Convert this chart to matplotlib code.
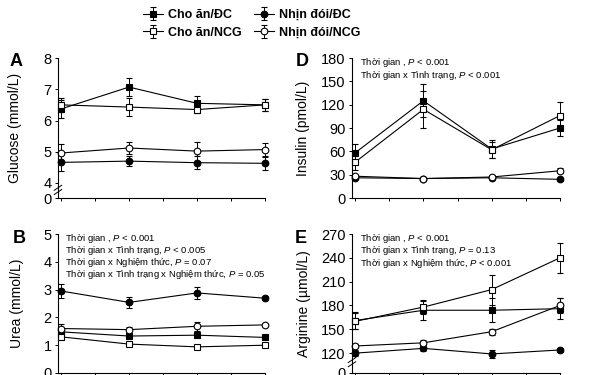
import numpy as np
import matplotlib
matplotlib.use('Agg')
import matplotlib.pyplot as plt

plt.rcParams['font.family'] = ['Liberation Sans', 'DejaVu Sans']
plt.rcParams['mathtext.fontset'] = 'custom'
plt.rcParams['mathtext.it'] = 'Liberation Sans:italic'
plt.rcParams['mathtext.rm'] = 'Liberation Sans'

# time points
time = [0, 1, 2, 3]
groups = ['Cho ăn/ĐC', 'Cho ăn/NCG', 'Nhịn đói/ĐC', 'Nhịn đói/NCG']

# Glucose (mmol/L)
glu_fed_dc = [6.37, 7.07, 6.55, 6.50]
glu_fed_dc_err = [0.28, 0.28, 0.24, 0.20]
glu_fed_ncg = [6.50, 6.43, 6.35, 6.50]
glu_fed_ncg_err = [0.22, 0.28, 0.12, 0.20]
glu_fast_dc = [4.66, 4.70, 4.65, 4.63]
glu_fast_dc_err = [0.26, 0.17, 0.20, 0.20]
glu_fast_ncg = [4.96, 5.12, 5.02, 5.07]
glu_fast_ncg_err = [0.30, 0.20, 0.30, 0.22]

# Urea (mmol/L)
urea_fed_dc = [1.48, 1.33, 1.36, 1.28]
urea_fed_dc_err = [0.05, 0.05, 0.05, 0.04]
urea_fed_ncg = [1.30, 1.04, 0.94, 1.00]
urea_fed_ncg_err = [0.05, 0.04, 0.04, 0.04]
urea_fast_dc = [2.95, 2.54, 2.88, 2.69]
urea_fast_dc_err = [0.24, 0.20, 0.23, 0.08]
urea_fast_ncg = [1.60, 1.56, 1.68, 1.73]
urea_fast_ncg_err = [0.17, 0.10, 0.17, 0.05]

# Insulin (pmol/L)
ins_fed_dc = [58, 125, 63, 90]
ins_fed_dc_err = [12, 21, 12, 10]
ins_fed_ncg = [46, 114, 62, 106]
ins_fed_ncg_err = [10, 24, 10, 18]
ins_fast_dc = [26, 25, 26, 24]
ins_fast_dc_err = [2, 2, 2, 2]
ins_fast_ncg = [28, 25, 27, 35]
ins_fast_ncg_err = [2, 2, 2, 3]

# Arginine (umol/L)
arg_fed_dc = [161, 174, 174, 176]
arg_fed_dc_err = [11, 12, 15, 13]
arg_fed_ncg = [160, 178, 200, 240]
arg_fed_ncg_err = [10, 9, 19, 19]
arg_fast_dc = [120, 126, 119, 124]
arg_fast_dc_err = [4, 3, 5, 2]
arg_fast_ncg = [129, 133, 147, 180]
arg_fast_ncg_err = [3, 3, 4, 10]

styles = [('s', 'k', 4.2), ('s', 'white', 4.2), ('o', 'k', 4.8), ('o', 'white', 4.8)]

W, H = 592, 375
fig = plt.figure(figsize=(W / 100, H / 100), dpi=100)


def rect(left, top, right, bottom):
    return [left / W, 1 - bottom / H, (right - left) / W, (bottom - top) / H]


def draw(ax, series):
    for (vals, errs), (m, fc, ms), lab in zip(series, styles, groups):
        ax.errorbar(time, vals, yerr=errs, fmt='-' + m, color='k', mfc=fc,
                    mec='k', ms=ms, mew=0.8, lw=0.8, elinewidth=0.7,
                    capsize=2, capthick=0.7, clip_on=False, label=lab)
    ax.set_xlim(-0.045, 3.0)
    ax.set_xticks(np.arange(0, 3.01, 0.5))
    ax.set_xticklabels([])
    ax.spines['top'].set_visible(False)
    ax.spines['right'].set_visible(False)
    ax.tick_params(direction='out', length=2.5, width=0.7, labelsize=10.5, pad=2)
    for s in ['left', 'bottom']:
        ax.spines[s].set_linewidth(0.8)


def brk(ax, y):
    for dy in (-0.012, 0.018):
        ax.plot([-0.018, 0.018], [y + dy - 0.018, y + dy + 0.018], color='k',
                lw=0.7, transform=ax.transAxes, clip_on=False)


NOTE = 6.8

# A - glucose
axA = fig.add_axes(rect(58, 58, 265, 198))
draw(axA, [(glu_fed_dc, glu_fed_dc_err), (glu_fed_ncg, glu_fed_ncg_err),
           (glu_fast_dc, glu_fast_dc_err), (glu_fast_ncg, glu_fast_ncg_err)])
axA.set_ylim(3.52, 8)
axA.set_yticks([3.52, 4, 5, 6, 7, 8])
axA.set_yticklabels(['0', '4', '5', '6', '7', '8'])
axA.set_ylabel('Glucose (mmol/L)', fontsize=10)
axA.yaxis.set_label_coords(-0.172, 0.5)
brk(axA, 0.055)

# D - insulin
axD = fig.add_axes(rect(352, 58, 560, 198))
draw(axD, [(ins_fed_dc, ins_fed_dc_err), (ins_fed_ncg, ins_fed_ncg_err),
           (ins_fast_dc, ins_fast_dc_err), (ins_fast_ncg, ins_fast_ncg_err)])
axD.set_ylim(0, 180)
axD.set_yticks(range(0, 181, 30))
axD.set_ylabel('Insulin (pmol/L)', fontsize=10)
axD.yaxis.set_label_coords(-0.202, 0.5)
axD.text(0.038, 0.965, r'Thời gian , $\it{P}$ < 0.001', fontsize=NOTE,
         transform=axD.transAxes, va='center')
axD.text(0.038, 0.872, r'Thời gian x Tình trạng, $\it{P}$ < 0.001', fontsize=NOTE,
         transform=axD.transAxes, va='center')

# B - urea
axB = fig.add_axes(rect(58, 234, 265, 373))
draw(axB, [(urea_fed_dc, urea_fed_dc_err), (urea_fed_ncg, urea_fed_ncg_err),
           (urea_fast_dc, urea_fast_dc_err), (urea_fast_ncg, urea_fast_ncg_err)])
axB.set_ylim(0, 5)
axB.set_yticks(range(0, 6))
axB.set_ylabel('Urea (mmol/L)', fontsize=10)
axB.yaxis.set_label_coords(-0.165, 0.5)
b_notes = [r'Thời gian , $\it{P}$ < 0.001',
           r'Thời gian x Tình trạng, $\it{P}$ < 0.005',
           r'Thời gian x Nghiệm thức, $\it{P}$ = 0.07',
           r'Thời gian x Tình trạng x Nghiệm thức, $\it{P}$ = 0.05']
for i, t in enumerate(b_notes):
    axB.text(0.034, 0.971 - i * 0.088, t, fontsize=NOTE, transform=axB.transAxes,
             va='center')

# E - arginine
axE = fig.add_axes(rect(352, 234, 560, 373))
draw(axE, [(arg_fed_dc, arg_fed_dc_err), (arg_fed_ncg, arg_fed_ncg_err),
           (arg_fast_dc, arg_fast_dc_err), (arg_fast_ncg, arg_fast_ncg_err)])
axE.set_ylim(95, 270)
axE.set_yticks([95, 120, 150, 180, 210, 240, 270])
axE.set_yticklabels(['0', '120', '150', '180', '210', '240', '270'])
axE.set_ylabel('Arginine (µmol/L)', fontsize=10)
axE.yaxis.set_label_coords(-0.195, 0.5)
e_notes = [r'Thời gian , $\it{P}$ < 0.001',
           r'Thời gian x Tình trạng, $\it{P}$ = 0.13',
           r'Thời gian x Nghiệm thức, $\it{P}$ < 0.001']
for i, t in enumerate(e_notes):
    axE.text(0.038, 0.971 - i * 0.093, t, fontsize=NOTE, transform=axE.transAxes,
             va='center')
brk(axE, 0.075)

# panel letters
for lab, x, y in [('A', 16, 62), ('B', 19, 238), ('D', 302, 61), ('E', 301, 238)]:
    fig.text(x / W, 1 - y / H, lab, fontsize=13, fontweight='bold',
             ha='center', va='center')

handles, labels = axA.get_legend_handles_labels()
fig.legend(handles, labels, ncol=2, loc='upper left',
           bbox_to_anchor=(143 / W, 1 - 9 / H), frameon=False,
           prop={'size': 9, 'weight': 'bold'}, handlelength=1.6,
           handletextpad=0.4, columnspacing=1.0, labelspacing=0.45,
           borderaxespad=0, borderpad=0)

fig.savefig('out.png', dpi=100)
